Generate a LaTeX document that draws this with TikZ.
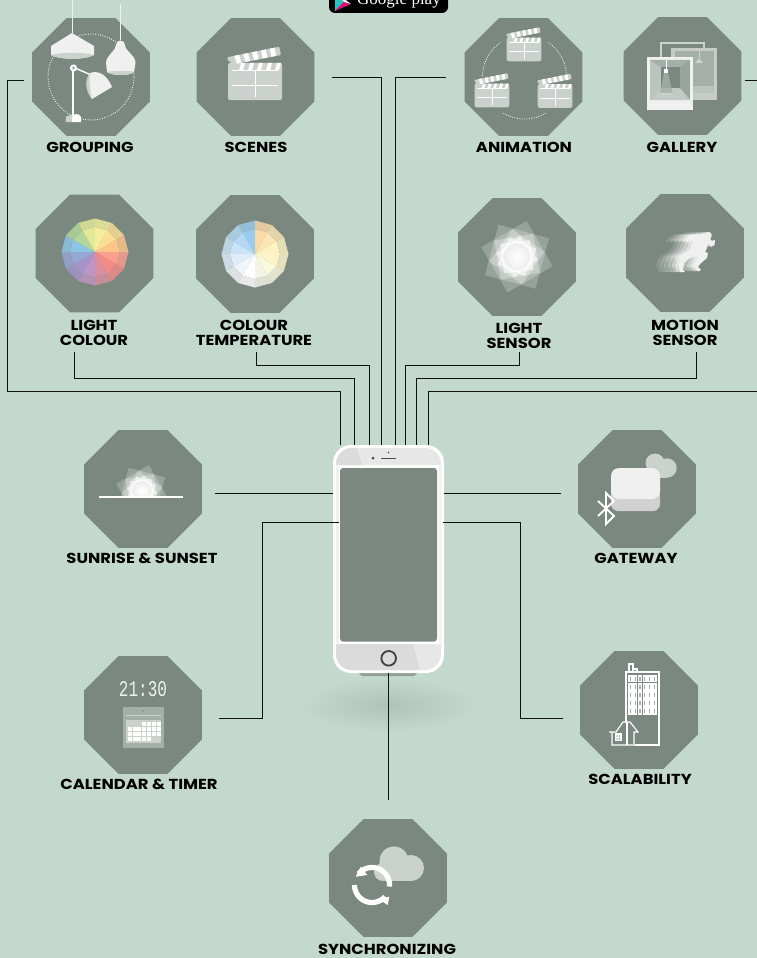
\documentclass[tikz,border=0pt]{standalone}
\usepackage{fontspec}
\setmainfont{Poppins}
\newfontfamily\gpfont{Liberation Serif}
\newfontfamily\clockfont{Liberation Mono}
\usetikzlibrary{shapes.geometric,calc}
\definecolor{bgc}{HTML}{C4D9CE}
\definecolor{octc}{HTML}{7A887F}
\definecolor{linec}{HTML}{111111}
\definecolor{lightg}{HTML}{CBD2CE}
\definecolor{midg}{HTML}{A5AFA9}
\definecolor{lampw}{HTML}{F0F0F0}
\definecolor{playteal}{HTML}{2EBFBF}
\definecolor{shadowc}{HTML}{AEC4B7}
\tikzset{
  octa/.style={regular polygon,regular polygon sides=8,minimum size=127.7pt,inner sep=0pt,outer sep=0pt,fill=octc},
  lbl/.style={font=\fontsize{14.5}{14.5}\selectfont\bfseries,align=center,inner sep=0pt,text=black,xscale=1.13,transform shape},
  link/.style={draw=linec,line width=1pt},
  dots/.style={draw=white,line width=.8pt,dash pattern=on .9pt off 1.5pt},
  clapper/.pic={
    \fill[lightg,rounded corners=2pt] (-27,-18.5) rectangle (27,18.5);
    \foreach \s in {-17,-8,1,10,19}{\fill[white] (\s+3,-18.5) -- (\s+7,-18.5) -- (\s+5,-11.5) -- (\s+1,-11.5) -- cycle;}
    \fill[lightg,rounded corners=1pt] (-28,-24.2) -- (24.3,-34.8) -- (26,-26.5) -- (-25,-16.5) -- cycle;
    \foreach \t in {.14,.31,.48,.65,.82}{\fill[white] ({-28+52.3*\t},{-24.2-10.6*\t}) -- ({-28+52.3*(\t+.09)},{-24.2-10.6*(\t+.09)}) -- ({-25.4+51*(\t+.09)},{-16.5-10*(\t+.09)}) -- ({-25.4+51*\t},{-16.5-10*\t}) -- cycle;}
    \fill[octc] (-25.5,-19.5) circle (1pt);
    \draw[white,line width=1pt] (-23,-11) -- (23,-11) (-23,3.5) -- (23,3.5) (0,-11) -- (0,15.5);
  },
  runner/.pic={
    \fill (708.3,235.3) circle (3.5pt);
    \fill (688,240) -- (694,235) -- (703,233.5) -- (710,236) -- (711,241) -- (715,240) -- (714.5,245) -- (711,247) -- (708,243) -- (707,248) -- (705,252) -- (708,253) -- (707,258) -- (700,264) -- (698,267) -- (701,270) -- (698,271.5) -- (692,266) -- (697,259) -- (697,256) -- (690,258) -- (684,263) -- (683,270) -- (685,272) -- (680,272) -- (678,265) -- (681,257) -- (690,252) -- (694,247) -- (696,241) -- (692,240.5) -- (689,243) -- cycle;
  },
  sunstar/.pic={
    \foreach \a in {30,75}{\fill[white,opacity=.22] (\a:37pt) -- (\a+90:37pt) -- (\a+180:37pt) -- (\a+270:37pt) -- cycle;}
    \foreach \a in {10,55}{\fill[white,opacity=.3] (\a:28pt) -- (\a+90:28pt) -- (\a+180:28pt) -- (\a+270:28pt) -- cycle;}
    \foreach \a in {22,52,82}{\fill[white,opacity=.6] (\a:21pt) -- (\a+90:21pt) -- (\a+180:21pt) -- (\a+270:21pt) -- cycle;}
    \shade[inner color=white,outer color=black!7] (0,0) circle (13.5pt);
  }
}
\begin{document}
\begin{tikzpicture}[x=1pt,y=-1pt]
\useasboundingbox (0,0) rectangle (756,958);
\fill[bgc] (-3,-3) rectangle (760,962);

% badge
\fill[black,rounded corners=6pt] (329,-20) rectangle (448,13);
\fill[playteal] (335,-8) -- (335,11) -- (344,2) -- cycle;
\fill[magenta!80!red] (335,11) -- (344,2) -- (351,4) -- cycle;
\fill[lampw] (335,-8) -- (344,2) -- (351,4) -- cycle;
\node[anchor=base,text=white,font=\gpfont\fontsize{17}{18}\selectfont,inner sep=0pt] (badgetext) at (399,5) {Google play};

% shadow
\shade[inner color=shadowc,outer color=bgc] (388,705) ellipse (88 and 27);
\fill[octc!70!bgc] (358,672) -- (418,672) -- (414,676) -- (362,676) -- cycle;

% octagons
\node[octa] (grouping) at (91,77) {};
\node[octa] (scenes) at (255.5,77) {};
\node[octa] (animation) at (523.5,77) {};
\node[octa] (gallery) at (682.5,76) {};
\node[octa] (lightcolour) at (94.5,253.5) {};
\node[octa] (colourtemp) at (255,254) {};
\node[octa] (lightsensor) at (517,257) {};
\node[octa] (motion) at (685,253) {};
\node[octa] (sunrise) at (143,489) {};
\node[octa] (calendar) at (143,715) {};
\node[octa] (gateway) at (637,489) {};
\node[octa] (scalability) at (639,710) {};
\node[octa] (sync) at (388,878) {};

% labels
\node[lbl] (lgrouping) at (90,147) {GROUPING};
\node[lbl] (lscenes) at (256,147) {SCENES};
\node[lbl] (lanimation) at (524,147) {ANIMATION};
\node[lbl] (lgallery) at (682,147) {GALLERY};
\node[lbl] (llightcolour) at (94,333) {LIGHT\\COLOUR};
\node[lbl] (lcolourtemp) at (254,333) {COLOUR\\TEMPERATURE};
\node[lbl] (llightsensor) at (519,336) {LIGHT\\SENSOR};
\node[lbl] (lmotion) at (685,333) {MOTION\\SENSOR};
\node[lbl] (lsunrise) at (142,558) {SUNRISE \& SUNSET};
\node[lbl] (lcalendar) at (139,784) {CALENDAR \& TIMER};
\node[lbl] (lgateway) at (636,558) {GATEWAY};
\node[lbl] (lscalability) at (640,779) {SCALABILITY};
\node[lbl] (lsync) at (387,949) {SYNCHRONIZING};

% phone
\node[rectangle,rounded corners=18pt,fill=white,minimum width=111pt,minimum height=228pt,inner sep=0pt,outer sep=0pt] (phone) at (388.5,559) {};

% phone detail
\fill[lampw!96!black,rounded corners=16pt] (336,448) rectangle (441,670);
\fill[white] (336,465) rectangle (441,644);
\begin{scope}
\clip[rounded corners=16pt] (336,448) rectangle (441,670);
\fill[black!14] (336,448) -- (357,448) -- (362,465) -- (336,465) -- cycle;
\fill[black!14] (336,644) -- (413,644) -- (420,670) -- (336,670) -- cycle;
\end{scope}
\fill[lampw] (336,466) rectangle (339,643);
\fill[lampw] (438.5,466) rectangle (441,643);
\fill[octc,rounded corners=3pt] (340,468) -- (437,468) -- (437,641.5) -- (340,641.5) -- cycle;
\draw[black!70,line width=.9pt] (381,458) -- (396,458);
\fill[black!75] (373,458) circle (1.5pt);
\fill[black!75] (388.5,452.5) circle (.8pt);
\draw[black!75,line width=1.8pt] (388.7,658.3) circle (7.3pt);

% free ends
\coordinate (lcout) at (74,352);
\coordinate (ctout) at (256,352);
\coordinate (lsout) at (519.5,352);
\coordinate (msout) at (696,352);
\coordinate (galleryedge) at (758,80);
\coordinate (galleryback) at (758,391);
\coordinate (syncend) at (388.5,800);

% connectors
\draw[link] ([shift={(-8,3)}]grouping.west) -- (7,80) -- (7,391) -- (340,391) -- ([xshift=-48.5pt]phone.north);
\draw[link] (lcout) -- (74,378) -- (354,378) -- ([xshift=-34.5pt]phone.north);
\draw[link] (ctout) -- (256,365) -- (369,365) -- ([xshift=-19.5pt]phone.north);
\draw[link] ([xshift=17pt]scenes.east) -- (381,77) -- ([xshift=-7.5pt]phone.north);
\draw[link] ([xshift=-19pt]animation.west) -- (395,77) -- ([xshift=6.5pt]phone.north);
\draw[link] (lsout) -- (519.5,365) -- (405.7,365) -- ([xshift=17.2pt]phone.north);
\draw[link] (msout) -- (696,378) -- (416.7,378) -- ([xshift=28.2pt]phone.north);
\draw[link] ([shift={(3,4)}]gallery.east) -- (galleryedge);
\draw[link] (galleryback) -- (428.7,391) -- ([xshift=40.2pt]phone.north);
\draw[link] ([shift={(13,4)}]sunrise.east) -- ([yshift=66pt]phone.west);
\draw[link] ([shift={(-17,4)}]gateway.west) -- ([yshift=66pt]phone.east);
\draw[link] ([shift={(17,3)}]calendar.east) -- (262,718) -- (262,522) -- ([shift={(6,-37)}]phone.west);
\draw[link] ([shift={(-17,8)}]scalability.west) -- (520,718) -- (520,522) -- ([shift={(-1,-37)}]phone.east);
\draw[link] (phone.south) -- (syncend);

% grouping icon
\draw[dots] (91,77) circle (43pt);
\draw[lampw,line width=.8pt] (72,0) -- (72,33) (120.5,4) -- (120.5,40);
\fill[lampw] (72,33) -- (51,46) -- (51,55) .. controls (60,60) and (85,60) .. (94,55) -- (94,46) -- cycle;
\fill[lightg] (51,55) .. controls (60,52) and (85,52) .. (94,55) .. controls (85,60) and (60,60) .. (51,55) -- cycle;
\fill[lampw] (120.5,45) circle (4.5pt);
\fill[lampw] (116,45) .. controls (116,51) and (106,55) .. (106,63) -- (107,72) .. controls (112,76) and (130,76) .. (134,72) -- (135.5,63) .. controls (135.5,55) and (125,51) .. (125,45) -- cycle;
\fill[lightg] (107,72) .. controls (112,70.5) and (130,70.5) .. (134,72) .. controls (130,76) and (112,76) .. (107,72) -- cycle;
\draw[white,line width=1.8pt] (73,70) -- (73,116);
\draw[white,line width=1.4pt] (75,68) -- (90,74.5);
\fill[white] (73.5,68) circle (3.6pt);
\fill[midg] (73.5,68) circle (1.6pt);
\fill[lampw] (90,73) .. controls (99,70) and (107,75) .. (112,87) -- (92,99) .. controls (85,90) and (85,80) .. (90,73) -- cycle;
\fill[lightg] (90,73) .. controls (89,82) and (90,90) .. (92,99) .. controls (85,90) and (85,80) .. (90,73) -- cycle;
\fill[white] (72,122) -- (72,117) .. controls (74,113) and (79,113) .. (81,117) -- (81,122) -- cycle;
\fill[lightg] (72,122) -- (72,114.5) -- (66,116.5) -- (65.5,122) -- cycle;

% scenes icon
\pic at (255,81.5) {clapper};

% animation icon
\draw[dots] plot[domain=125:180,samples=24] ({524.5+42*cos(\x)},{77-42*sin(\x)});
\draw[dots] plot[domain=5:55,samples=24] ({524.5+42*cos(\x)},{77-42*sin(\x)});
\draw[dots] plot[domain=240:300,samples=24] ({524.5+42*cos(\x)},{77-42*sin(\x)});
\pic[scale=.64] at (524,49.5) {clapper};
\pic[scale=.64] at (492,95.5) {clapper};
\pic[scale=.64] at (555,96) {clapper};

% gallery icon
\draw[lightg,line width=2.2pt] (661,43) rectangle (704,70);
\fill[midg!55!lampw] (671,48) rectangle (717,100);
\fill[midg] (675,51) rectangle (714,93);
\fill[midg!70!lampw] (675,86) rectangle (714,93);
\fill[lightg] (695,63) -- (703,63) -- (699,58.5) -- cycle;
\draw[lightg,line width=.6pt] (699,51) -- (699,59);
\fill[lampw] (647,57) rectangle (693,110);
\fill[midg!70!octc] (650,60) rectangle (690,100);
\fill[midg!70!lampw] (650,60) -- (661,67) -- (661,88) -- (650,100) -- cycle;
\fill[midg] (650,60) -- (690,60) -- (680,67) -- (661,67) -- cycle;
\fill[midg!60!lampw] (650,100) -- (661,88) -- (680,88) -- (690,100) -- cycle;
\fill[octc] (661,67) rectangle (680,88);
\fill[midg,opacity=.8] (664,73) -- (668,73) -- (673,94) -- (660,94) -- cycle;
\fill[lightg] (660,93) rectangle (673,95);
\draw[white,line width=.8pt] (666,60) -- (666,70);
\fill[white] (663.7,69) rectangle (668.3,73);

% colour wheels
\begin{scope}[shift={(95,252)}]
\foreach \a/\c in {90/F3EE9C,60/FBDD94,30/FDC587,0/FA9E8D,-30/F38A87,-60/D88F9F,-90/BE95C4,-120/A594C8,-150/97A6D2,180/8CC6E6,150/B2D69B,120/E3EA97}{
  \definecolor{cw}{HTML}{\c}
  \fill[cw] (0,0) -- (\a:25pt) -- (\a-30:25pt) -- cycle;
  \fill[cw!82!octc] (\a:25pt) -- (\a:33.5pt) -- (\a-30:33.5pt) -- (\a-30:25pt) -- cycle;
}
\end{scope}
\begin{scope}[shift={(255,254)}]
\foreach \a/\c in {90/FCD9A8,60/FDE5B4,30/FDF2C2,0/FCF3C8,-30/FAF8DC,-60/F3F3E8,-90/FFFFFF,-120/F0F5FA,-150/E0EDF8,180/CAE3F7,150/B4D8F3,120/9BCBED}{
  \definecolor{cw}{HTML}{\c}
  \fill[cw] (0,0) -- (\a:25pt) -- (\a-30:25pt) -- cycle;
  \fill[cw!82!octc] (\a:25pt) -- (\a:33.5pt) -- (\a-30:33.5pt) -- (\a-30:25pt) -- cycle;
}
\end{scope}

% light sensor
\pic at (517,256.7) {sunstar};

% motion
\foreach \d/\o in {-22/.12,-18/.18,-14/.25,-10/.33,-6/.42,-3/.55}{
  \pic[white,opacity=\o,xshift=\d pt] at (0,0) {runner};
}
\pic[lampw] at (0,0) {runner};

% sunrise
\begin{scope}
\clip (90,460) rectangle (195,497);
\pic[scale=.72,transform shape] at (142,490.7) {sunstar};
\end{scope}
\draw[white,line width=1.1pt] (99,497) -- (183,497);

% calendar
\node[text=lampw,font=\clockfont\fontsize{16}{16}\selectfont,inner sep=0pt] (clock) at (143,689.5) {\scalebox{1}[1.4]{21:30}};
\fill[midg] (123,707) rectangle (164,748);
\fill[octc] (143,711) circle (.9pt);
\draw[lightg,line width=.9pt] (126,715) -- (161,715);
\fill[lightg] (126,720) rectangle (161,743);
\foreach \r/\s/\e in {721.5/3/6,726.6/0/6,731.7/0/6,736.8/0/4}{
  \foreach \k in {\s,...,\e}{
    \fill[white] ({127.7+\k*4.85},\r) rectangle ++(4,4.2);
  }
}

% gateway
\fill[lightg] (655,463) circle (9.5pt) (667,468) circle (9.7pt) (645,473) circle (5pt);
\fill[lightg] (640,473) rectangle (667,477.7);
\fill[black!18,rounded corners=7pt] (611,478) rectangle (660,511);
\fill[lampw,rounded corners=8pt] (611,468) rectangle (660,499);
\draw[white,line width=1.9pt,miter limit=10] (598,501) -- (614,516) -- (606,524) -- (606,493) -- (614,501) -- (598,516);

% scalability
\draw[white,line width=1.1pt] (629,672) -- (629,664) -- (633,664) -- (633,672) (633,669) -- (637,669) -- (637,672);
\draw[white,line width=1.3pt] (626,745) -- (626,672) -- (659,672) -- (659,745) -- cycle;
\foreach \i in {0,...,4}{
  \foreach \j in {0,...,5}{
    \fill[white] ({628+\j*4.85},{675+\i*8.1}) rectangle ++(4.6,7.4);
    \fill[midg] ({629.7+\j*4.85},{676.5+\i*8.1}) rectangle ++(1.1,4);
  }
}
\fill[octc] (610,730) -- (623.3,721) -- (638,733) -- (634.5,746) -- (611,746) -- cycle;
\draw[white,line width=1.1pt] (609,732) -- (616,732) -- (623,722) -- (630,722) -- (638,732) -- (634,732) -- (634,745) -- (612,745) -- (612,732);
\draw[white,line width=1.1pt] (627,722) -- (627,745);
\fill[white] (615,733) rectangle (622,741);
\fill[midg] (616.5,735) rectangle ++(1.2,2) (619,735) rectangle ++(1.2,2) (616.5,738) rectangle ++(1.2,2) (619,738) rectangle ++(1.2,2);

% sync
\fill[lightg] (394,861) circle (14.5pt) (411,868) circle (13pt) (383,872) circle (9pt);
\fill[lightg] (383,868) rectangle (411,881);
\draw[white,line width=5.2pt] plot[domain=-5:140,samples=30] ({372+17.5*cos(\x)},{885-17.5*sin(\x)});
\draw[white,line width=5.2pt] plot[domain=180:318,samples=30] ({372+17.5*cos(\x)},{885-17.5*sin(\x)});
\fill[white] (355.7,876.7) -- (360.7,866.7) -- (367.3,875) -- cycle;
\fill[white] (389.3,896.7) -- (387.7,905) -- (378.3,899) -- cycle;
\end{tikzpicture}
\end{document}
